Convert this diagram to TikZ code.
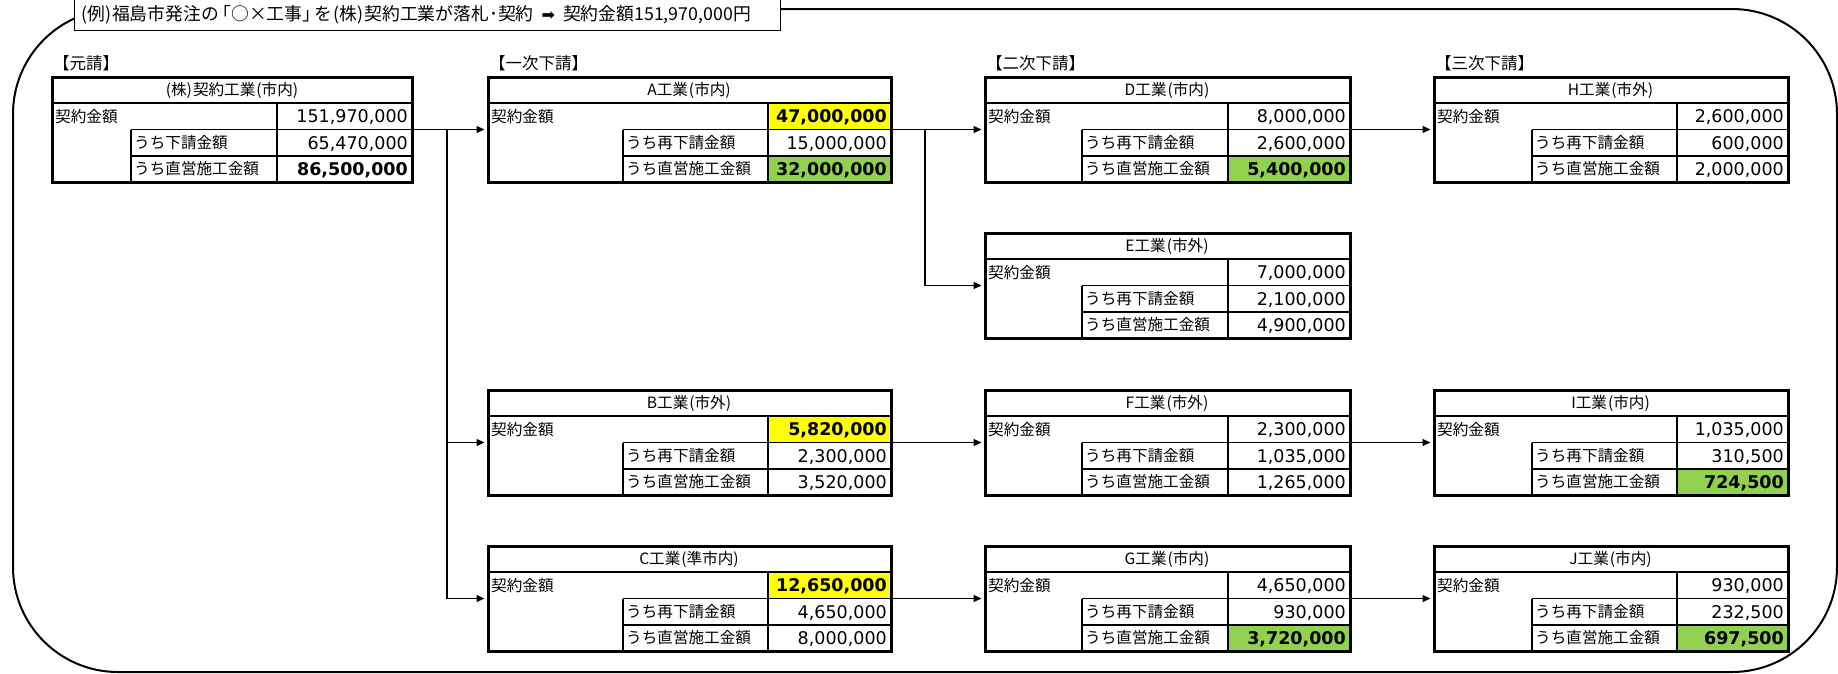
\documentclass[tikz,border=0pt]{standalone}
\usepackage{fontspec}
\setmainfont{Noto Sans CJK JP}
\newfontfamily\numfont{DejaVu Sans}
\usetikzlibrary{arrows.meta}
\definecolor{xlyel}{HTML}{FFFF00}
\definecolor{xlgrn}{HTML}{92D050}
% column geometry: left, sub-label column, value column, right
\def\gL{52}\def\gS{131}\def\gV{277}\def\gR{412}
\def\aL{488}\def\aS{623}\def\aV{768}\def\aR{891}
\def\dL{985}\def\dS{1082}\def\dV{1228}\def\dR{1350}
\def\hL{1434}\def\hS{1532}\def\hV{1677}\def\hR{1788}
\def\lp{\kern1pt(}\def\rp{)\kern1pt}
\newcommand\nb[1]{{\bfseries #1}}
\tikzset{
  frame/.style={draw, line width=3pt, inner sep=0pt, outer sep=0pt, rectangle},
  hline/.style={line width=2.5pt},
  iline/.style={line width=1.8pt},
  lbl/.style={inner sep=0pt, font=\fontsize{15.6}{18}\selectfont},
  catlbl/.style={inner sep=0pt, font=\fontsize{16.5}{18}\selectfont, anchor=base west},
  num/.style={inner sep=0pt, font=\numfont\fontsize{17.5}{20}\selectfont},
  conn/.style={line width=1.1pt, -{Triangle[length=8pt,width=7pt]}, shorten >=3.5pt}
}
\newcommand\cellfill[4]{% col, top, row(1/3), colour
  \edef\kV{\csname #1V\endcsname}\edef\kR{\csname #1R\endcsname}%
  \ifnum#3=1 \fill[#4] (\kV,#2+26) rectangle (\kR,#2+52.5);\else
  \fill[#4] (\kV,#2+79) rectangle (\kR,#2+105);\fi}
\newcommand\ktable[8]{% name, col, top, header, v1, sub1, v2, v3
  \edef\kL{\csname #2L\endcsname}\edef\kS{\csname #2S\endcsname}%
  \edef\kV{\csname #2V\endcsname}\edef\kR{\csname #2R\endcsname}\def\kT{#3}%
  \node[frame, minimum width=\kR-\kL, minimum height=105, anchor=north west] (#1) at (\kL,\kT) {};
  \draw[hline] (\kL,\kT+26) -- (\kR,\kT+26);
  \draw[iline] (\kV,\kT+26) -- (\kV,\kT+105);
  \draw[iline] (\kS,\kT+52.5) -- (\kR,\kT+52.5);
  \draw[iline] (\kS,\kT+79) -- (\kR,\kT+79);
  \draw[iline] (\kS,\kT+52.5) -- (\kS,\kT+105);
  \node[lbl, anchor=base] (#1h) at ({(\kL+\kR)/2},\kT+18.5) {#4};
  \node[lbl, anchor=base west] (#1a) at (\kL+3,\kT+45.3) {契約金額};
  \node[num, anchor=base east] (#1v1) at (\kR-4,\kT+45.8) {#5};
  \node[lbl, anchor=base west] (#1s1) at (\kS+3,\kT+71.8) {#6};
  \node[num, anchor=base east] (#1v2) at (\kR-4,\kT+72.3) {#7};
  \node[lbl, anchor=base west] (#1s2) at (\kS+3,\kT+97.8) {うち直営施工金額};
  \node[num, anchor=base east] (#1v3) at (\kR-4,\kT+98.3) {#8};
}
\begin{document}
\begin{tikzpicture}[x=1pt,y=-1pt]
\useasboundingbox (0,0) rectangle (1838,673);
% outer rounded frame
\draw[line width=2pt, rounded corners=105pt] (13,9) rectangle (1837,672);
% title
\node[draw, fill=white, line width=1.2pt, minimum width=705.5, minimum height=31, inner sep=0pt, anchor=north west] (titlebox) at (74,-1.5) {};
\node[inner sep=0pt, anchor=base west, font=\fontsize{17.8}{20}\selectfont] (titletext) at (80,20.5) {\lp 例\rp 福島市発注の\kern-0.3em「○×工事」\kern-0.3em を\lp 株\rp 契約工業が落札･契約\ \ {\numfont\fontsize{16}{18}\selectfont ➡}\ \ 契約金額151,970,000円};
% stage labels
\node[catlbl] (cat0) at (53,69.5) {【元請】};
\node[catlbl] (cat1) at (489,69.5) {【一次下請】};
\node[catlbl] (cat2) at (986,69.5) {【二次下請】};
\node[catlbl] (cat3) at (1435,69.5) {【三次下請】};
% highlighted cells
\cellfill{a}{77}{1}{xlyel}\cellfill{a}{77}{3}{xlgrn}
\cellfill{d}{77}{3}{xlgrn}
\cellfill{a}{390}{1}{xlyel}
\cellfill{h}{390}{3}{xlgrn}
\cellfill{a}{546}{1}{xlyel}
\cellfill{d}{546}{3}{xlgrn}
\cellfill{h}{546}{3}{xlgrn}
% tables
\ktable{g}{g}{77}{\lp 株\rp 契約工業\lp 市内\rp}{151,970,000}{うち下請金額}{65,470,000}{\nb{86,500,000}}
\ktable{a}{a}{77}{A工業\lp 市内\rp}{\nb{47,000,000}}{うち再下請金額}{15,000,000}{\nb{32,000,000}}
\ktable{d}{d}{77}{D工業\lp 市内\rp}{8,000,000}{うち再下請金額}{2,600,000}{\nb{5,400,000}}
\ktable{e}{d}{233}{E工業\lp 市外\rp}{7,000,000}{うち再下請金額}{2,100,000}{4,900,000}
\ktable{h}{h}{77}{H工業\lp 市外\rp}{2,600,000}{うち再下請金額}{600,000}{2,000,000}
\ktable{b}{a}{390}{B工業\lp 市外\rp}{\nb{5,820,000}}{うち再下請金額}{2,300,000}{3,520,000}
\ktable{f}{d}{390}{F工業\lp 市外\rp}{2,300,000}{うち再下請金額}{1,035,000}{1,265,000}
\ktable{i}{h}{390}{I工業\lp 市内\rp}{1,035,000}{うち再下請金額}{310,500}{\nb{724,500}}
\ktable{c}{a}{546}{C工業\lp 準市内\rp}{\nb{12,650,000}}{うち再下請金額}{4,650,000}{8,000,000}
\ktable{gg}{d}{546}{G工業\lp 市内\rp}{4,650,000}{うち再下請金額}{930,000}{\nb{3,720,000}}
\ktable{j}{h}{546}{J工業\lp 市内\rp}{930,000}{うち再下請金額}{232,500}{\nb{697,500}}
% connectors
\coordinate (j1) at (447,129.5);
\coordinate (j2) at (925,129.5);
\draw[conn] (g.east) -- (a.west);
\draw[conn] (j1) |- (b.west);
\draw[conn] (j1) |- (c.west);
\draw[conn] (a.east) -- (d.west);
\draw[conn] (j2) |- (e.west);
\draw[conn] (d.east) -- (h.west);
\draw[conn] (b.east) -- (f.west);
\draw[conn] (f.east) -- (i.west);
\draw[conn] (c.east) -- (gg.west);
\draw[conn] (gg.east) -- (j.west);
\end{tikzpicture}
\end{document}
